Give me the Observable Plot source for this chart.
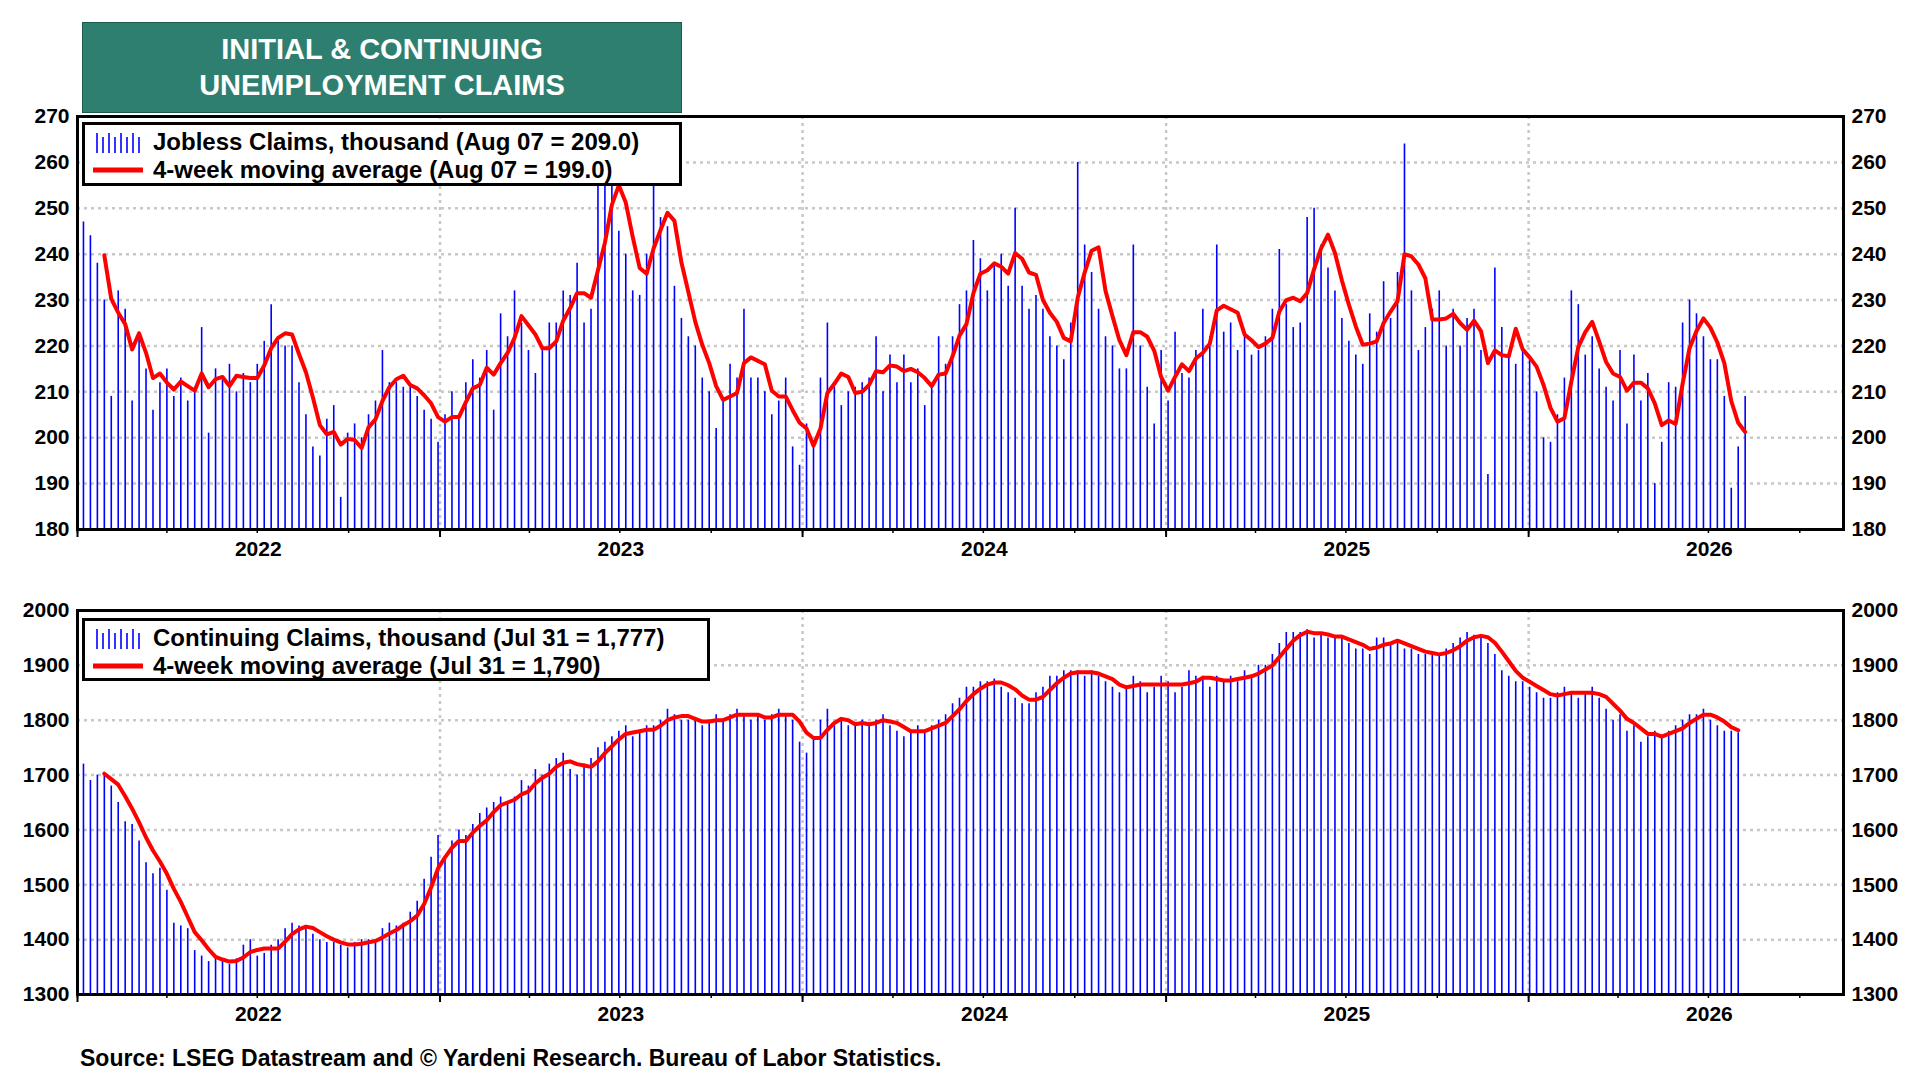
<!DOCTYPE html>
<html><head><meta charset="utf-8">
<script src="https://cdn.jsdelivr.net/npm/d3@7"></script>
<script src="https://cdn.jsdelivr.net/npm/@observablehq/plot@0.6"></script>
<style>
body{margin:0;background:#fff;font-family:"Liberation Sans",Arial,sans-serif;}
#page{position:relative;width:1920px;height:1080px;overflow:hidden;background:#fff}
.abs{position:absolute}
.title{left:82px;top:22px;width:600px;height:91px;background:#2f7f70;color:#fff;font-weight:bold;font-size:29px;text-align:center;line-height:36px;box-sizing:border-box;padding-top:8px;border:1px solid #1d5a4e;z-index:2}
.legend{background:#fff;border:3px solid #000;font-weight:bold;font-size:24px;padding:3px 8px;box-sizing:border-box;white-space:nowrap}
.legend div{height:28px;display:flex;align-items:center}
.sw{display:inline-block;width:50px;margin-right:10px}
.src{left:80px;top:1045px;font-weight:bold;font-size:23px}
</style></head><body><div id="page">
<div id="c1" class="abs" style="left:0;top:96px"></div>
<div id="c2" class="abs" style="left:0;top:590px"></div>
<div class="abs title">INITIAL &amp; CONTINUING<br>UNEMPLOYMENT CLAIMS</div>
<div class="abs legend" style="left:82px;top:122px;width:600px;height:64px">
 <div><svg class="sw" height="22" width="50" id="sw1"></svg>Jobless Claims, thousand (Aug 07 = 209.0)</div>
 <div><svg class="sw" height="22" width="50"><line x1="0" x2="50" y1="11" y2="11" stroke="red" stroke-width="5"/></svg>4-week moving average (Aug 07 = 199.0)</div>
</div>
<div class="abs legend" style="left:82px;top:618px;width:628px;height:63px">
 <div><svg class="sw" height="22" width="50" id="sw2"></svg>Continuing Claims, thousand (Jul 31 = 1,777)</div>
 <div><svg class="sw" height="22" width="50"><line x1="0" x2="50" y1="11" y2="11" stroke="red" stroke-width="5"/></svg>4-week moving average (Jul 31 = 1,790)</div>
</div>
<div class="abs src">Source: LSEG Datastream and © Yardeni Research. Bureau of Labor Statistics.</div>
</div>
<script>
const initialClaims = [
247,244,238,230,209,232,228,208,223,215,
206,212,215,209,213,208,211,224,201,215,
213,216,210,214,212,216,221,229,221,220,
220,212,205,198,196,204,207,187,201,203,
200,205,208,219,212,212,211,211,209,206,
204,199,
205,210,204,212,217,213,219,206,227,222,
232,225,219,214,220,225,225,232,231,238,
225,228,255,262,258,245,240,232,231,240,262,248,246,233,226,222,
220,213,210,202,208,216,213,228,213,213,210,205,208,213,198,194,
203,198,213,225,211,207,210,211,212,213,
222,210,218,212,218,212,215,207,211,222,
216,222,229,232,243,239,232,238,240,233,
250,233,228,231,228,222,220,217,225,260,
242,236,228,222,220,215,215,242,220,211,203,219,
208,223,214,213,219,228,222,242,223,225,
219,223,218,219,222,228,241,229,224,225,
248,250,242,237,232,226,221,218,216,227,
223,234,226,236,264,232,219,224,228,232,
220,228,220,226,228,219,192,237,224,218,216,219,
217,210,200,199,205,213,232,229,218,222,
215,211,208,219,203,218,208,214,190,199,
212,211,225,230,227,222,217,217,209,189,198,209];
const continuingClaims = [
1720,1690,1700,1700,1680,1650,1615,1610,1580,1540,
1520,1530,1490,1430,1425,1420,1380,1370,1360,1365,
1360,1355,1365,1390,1400,1370,1375,1390,1400,1420,
1430,1425,1420,1410,1400,1395,1395,1390,1385,1395,
1400,1400,1395,1420,1430,1425,1430,1450,1470,1510,
1550,1590,
1550,1580,1600,1590,1610,1630,1640,1650,1660,1650,
1660,1690,1680,1710,1700,1720,1730,1740,1710,1700,
1720,1730,1750,1760,1770,1780,1790,1770,1780,1790,
1790,1800,1820,1810,1800,1800,1800,1790,1800,1810,
1800,1810,1820,1810,1800,1810,1800,1810,1820,1810,1800,1760,
1740,1770,1800,1820,1790,1800,1790,1790,1800,1790,
1800,1810,1790,1780,1770,1780,1790,1780,1790,1800,
1810,1830,1840,1860,1860,1870,1870,1875,1860,1850,
1840,1830,1830,1850,1860,1880,1880,1890,1890,1890,
1880,1890,1880,1870,1860,1850,1860,1880,1870,1850,
1860,1880,
1870,1850,1860,1890,1880,1880,1860,1880,1870,1880,
1870,1890,1880,1900,1900,1920,1940,1960,1960,1960,
1965,1950,1960,1950,1950,1950,1940,1930,1930,1920,
1950,1950,1940,1940,1930,1930,1920,1920,1920,1920,
1930,1940,1950,1960,1955,1950,1940,1920,1890,1880,1870,1870,
1860,1850,1840,1840,1850,1860,1850,1840,1850,1860,
1840,1820,1800,1810,1780,1790,1760,1770,1780,1770,
1780,1790,1800,1810,1810,1820,1800,1790,1780,1780,1777];
const yearLabels = ["2022","2023","2024","2025","2026"];
const topTicks = [180,190,200,210,220,230,240,250,260,270];
const botTicks = [1300,1400,1500,1600,1700,1800,1900,2000];

const wk = i => new Date(Date.UTC(2022,0,7+7*i));
const d1 = initialClaims.map((v,i)=>({date:wk(i),v}));
const d2 = continuingClaims.map((v,i)=>({date:wk(i),v}));
const xDomain=[new Date(Date.UTC(2022,0,1)),new Date(Date.UTC(2026,10,14))];
const yearStarts = yearLabels.map(y=>new Date(Date.UTC(+y,0,1))).concat([new Date(Date.UTC(2027,0,1))]);
const mids = yearLabels.map(y=>new Date(Date.UTC(+y,6,2)));
const quarters = d3.utcMonth.every(3).range(xDomain[0],xDomain[1]);

function chart(data, yDom, ticks, height, mb){
  return Plot.plot({
    width:1920,height,marginLeft:77,marginRight:77,marginTop:20,marginBottom:mb,
    style:{fontFamily:"Liberation Sans, Arial, sans-serif",fontWeight:"bold",fontSize:"21px",color:"#000"},
    x:{type:"utc",domain:xDomain},
    y:{domain:yDom},
    marks:[
      Plot.ruleY(ticks,{stroke:"#c8c8c8",strokeWidth:2.5,strokeDasharray:"3,4"}),
      Plot.ruleX(yearStarts.slice(1,5),{stroke:"#c8c8c8",strokeWidth:2.5,strokeDasharray:"3,4"}),
      Plot.ruleX(data,{x:"date",y1:yDom[0],y2:"v",stroke:"#0000ff",strokeWidth:1.6,clip:true}),
      Plot.lineY(data,Plot.windowY({k:4,anchor:"end",strict:true},{x:"date",y:"v",stroke:"#ff0000",strokeWidth:4,clip:true})),
      Plot.axisY(ticks,{anchor:"left",tickSize:0,tickPadding:8,label:null,fontSize:21,tickFormat:d=>String(d)}),
      Plot.axisY(ticks,{anchor:"right",tickSize:0,tickPadding:8,label:null,fontSize:21,tickFormat:d=>String(d)}),
      Plot.axisX(quarters,{tickSize:4,tickFormat:()=>"",label:null,strokeWidth:1.5}),
      Plot.axisX(yearStarts.filter(d=>d<=xDomain[1]),{tickSize:8,tickFormat:()=>"",label:null,strokeWidth:2}),
      Plot.axisX(mids,{tickSize:0,tickPadding:12,tickFormat:d=>String(d.getUTCFullYear()),label:null,fontSize:21}),
      Plot.frame({stroke:"#000",strokeWidth:3})
    ]
  });
}
document.getElementById("c1").append(chart(d1,[180,270],topTicks,480,47));
document.getElementById("c2").append(chart(d2,[1300,2000],botTicks,450,46));
for(const id of ["sw1","sw2"]){
  const s=d3.select("#"+id);
  [4,10,16,22,28,34,40,46].forEach((x,i)=>s.append("line").attr("x1",x).attr("x2",x).attr("y1",i%2?6:2).attr("y2",22).attr("stroke","#0000ff").attr("stroke-width",1.6));
}
</script></body></html>
